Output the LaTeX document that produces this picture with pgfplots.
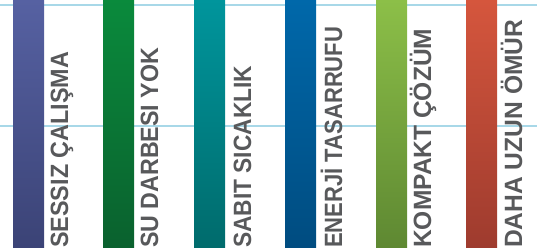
\documentclass[border=0pt]{standalone}
\usepackage{pgfplots}
\pgfplotsset{compat=1.18}
\usepackage{fontspec}
\setmainfont{Liberation Sans}
\usepackage{graphicx}
\definecolor{gridc}{HTML}{A8D8E8}
\definecolor{txtc}{HTML}{58595B}
\definecolor{aT}{HTML}{5661A2}\definecolor{aB}{HTML}{3B4376}
\definecolor{bT}{HTML}{0A8A3C}\definecolor{bB}{HTML}{0A612E}
\definecolor{cT}{HTML}{00959C}\definecolor{cB}{HTML}{006B6C}
\definecolor{dT}{HTML}{0068AA}\definecolor{dB}{HTML}{004C80}
\definecolor{eT}{HTML}{8CBF48}\definecolor{eB}{HTML}{5E8832}
\definecolor{fT}{HTML}{D5563D}\definecolor{fB}{HTML}{9E3B2E}
\newlength\lw
\newcommand\lbl[2]{\fontsize{25}{25}\selectfont\bfseries\settowidth{\lw}{#2}\pgfmathsetmacro\sx{#1/\lw}\scalebox{\sx}[1]{#2}}
\begin{document}
\begin{tikzpicture}
\begin{axis}[width=537pt,height=248pt,scale only axis,
  xmin=0,xmax=537,ymin=0,ymax=248,hide axis,clip=false]
\addplot[gridc, line width=2pt] coordinates {(0,243) (537,243)};
\addplot[gridc, line width=2pt] coordinates {(0,122) (537,122)};
\addplot[ybar, bar width=31, draw=none, top color=aT, bottom color=aB] coordinates {(28.5,248)};
\addplot[ybar, bar width=31, draw=none, top color=bT, bottom color=bB] coordinates {(118.5,248)};
\addplot[ybar, bar width=31, draw=none, top color=cT, bottom color=cB] coordinates {(209.5,248)};
\addplot[ybar, bar width=31, draw=none, top color=dT, bottom color=dB] coordinates {(300.5,248)};
\addplot[ybar, bar width=31, draw=none, top color=eT, bottom color=eB] coordinates {(391.5,248)};
\addplot[ybar, bar width=31, draw=none, top color=fT, bottom color=fB] coordinates {(481.5,248)};
\end{axis}
\node[rotate=90, anchor=base west, inner sep=0pt, text=txtc] at (68pt,0) {\lbl{196}{SESSIZ ÇALIŞMA}};
\node[rotate=90, anchor=base west, inner sep=0pt, text=txtc] at (158pt,0) {\lbl{200}{SU DARBESI YOK}};
\node[rotate=90, anchor=base west, inner sep=0pt, text=txtc] at (251pt,0) {\lbl{182}{SABIT SICAKLIK}};
\node[rotate=90, anchor=base west, inner sep=0pt, text=txtc] at (342pt,0) {\lbl{221}{ENERJİ TASARRUFU}};
\node[rotate=90, anchor=base west, inner sep=0pt, text=txtc] at (431pt,0) {\lbl{219}{KOMPAKT ÇÖZÜM}};
\node[rotate=90, anchor=base west, inner sep=0pt, text=txtc] at (522pt,0) {\lbl{228}{DAHA UZUN ÖMÜR}};
\pgfresetboundingbox
\path[use as bounding box] (0,0) rectangle (537pt,248pt);
\end{tikzpicture}
\end{document}
